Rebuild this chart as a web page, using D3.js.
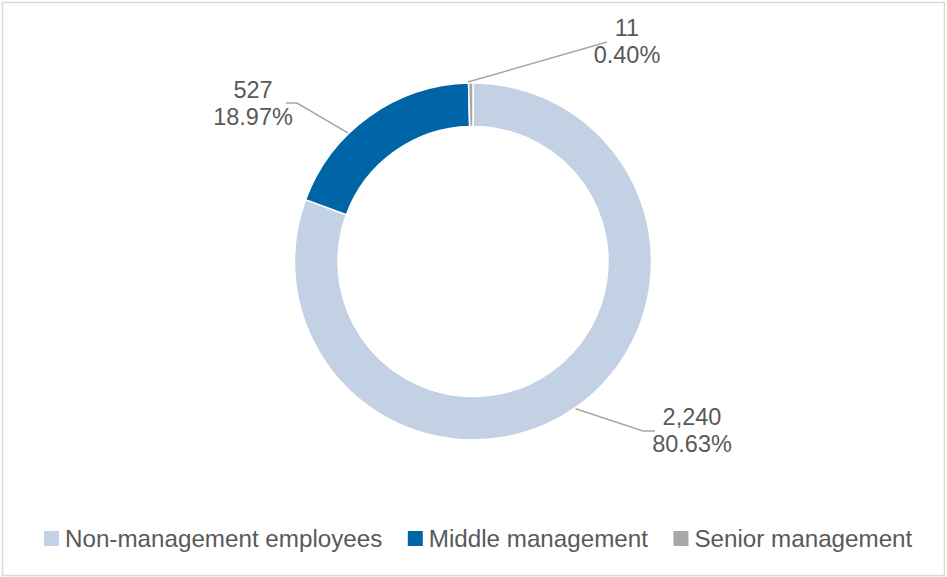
<!DOCTYPE html>
<html>
<head>
<meta charset="utf-8">
<script src="https://cdn.jsdelivr.net/npm/d3@7"></script>
<style>
  html, body { margin: 0; padding: 0; background: #fff; }
  svg { display: block; }
  text { font-family: "Liberation Sans", Arial, Helvetica, sans-serif; fill: #595959; }
</style>
</head>
<body>
<svg id="chart" width="947" height="577"></svg>
<script>
// ---- data ----
const categories = ["Non-management employees", "Middle management", "Senior management"];
const counts = [2240, 527, 11];
const percents = ["80.63%", "18.97%", "0.40%"];
const countLabels = ["2,240", "527", "11"];
const colors = ["#c3d1e4", "#0065a6", "#a8a8ab"];

// ---- layout (annotation placement, not data) ----
const W = 947, H = 577;
const cx = 473, cy = 261.5, rOuter = 178.5, rInner = 135;
const fontSize = 23.5;
const legendFontSize = 24.2;
// label centre x, first baseline y, leader angle (deg, clockwise from top), elbow point
const labelLayout = [
  { x: 692, y: 425, angle: null, elbow: [643, 431], end: [655, 431] },
  { x: 253, y: 98,  angle: 315.8, elbow: [297, 103], end: [286, 103] },
  { x: 627, y: 36,  angle: 358.4, elbow: [607, 42], end: null }
];

const svg = d3.select("#chart");

// frame
svg.append("rect")
  .attr("x", 2.5).attr("y", 2.5)
  .attr("width", W - 5).attr("height", H - 4)
  .attr("fill", "#fff")
  .attr("stroke", "#d9d9d9").attr("stroke-width", 1.5);

const pie = d3.pie().sort(null).value(d => d)
  .startAngle(0).endAngle(2 * Math.PI);
const arcs = pie(counts);
const arc = d3.arc().innerRadius(rInner).outerRadius(rOuter);

const g = svg.append("g").attr("transform", `translate(${cx},${cy})`);
g.selectAll("path.slice")
  .data(arcs)
  .join("path")
  .attr("class", "slice")
  .attr("d", arc)
  .attr("fill", (d, i) => colors[i])
  .attr("stroke", "#fff")
  .attr("stroke-width", 1.5)
  .attr("stroke-linejoin", "round");

// leader lines and labels
const pointAt = (angDeg, r) => {
  const a = angDeg * Math.PI / 180;
  return [cx + r * Math.sin(a), cy - r * Math.cos(a)];
};
arcs.forEach((d, i) => {
  const L = labelLayout[i];
  const midDeg = ((d.startAngle + d.endAngle) / 2) * 180 / Math.PI;
  const start = pointAt(L.angle == null ? midDeg : L.angle, rOuter + 1);
  const pts = [start, L.elbow];
  if (L.end) pts.push(L.end);
  svg.append("path")
    .attr("d", d3.line()(pts))
    .attr("fill", "none")
    .attr("stroke", "#a6a6a6")
    .attr("stroke-width", 1.5);
  const t = svg.append("text")
    .attr("text-anchor", "middle")
    .attr("font-size", fontSize);
  t.append("tspan").attr("x", L.x).attr("y", L.y).text(countLabels[i]);
  t.append("tspan").attr("x", L.x).attr("y", L.y + 27).text(percents[i]);
});

// legend
const legend = svg.append("g");
let lx = 44;
const ly = 547;
categories.forEach((c, i) => {
  legend.append("rect")
    .attr("x", lx).attr("y", ly - 16)
    .attr("width", 15).attr("height", 15)
    .attr("fill", colors[i]);
  const txt = legend.append("text")
    .attr("x", lx + 21).attr("y", ly)
    .attr("font-size", legendFontSize)
    .text(c);
  const w = txt.node().getComputedTextLength();
  lx = lx + 21 + w + 25.5;
});
</script>
</body>
</html>
